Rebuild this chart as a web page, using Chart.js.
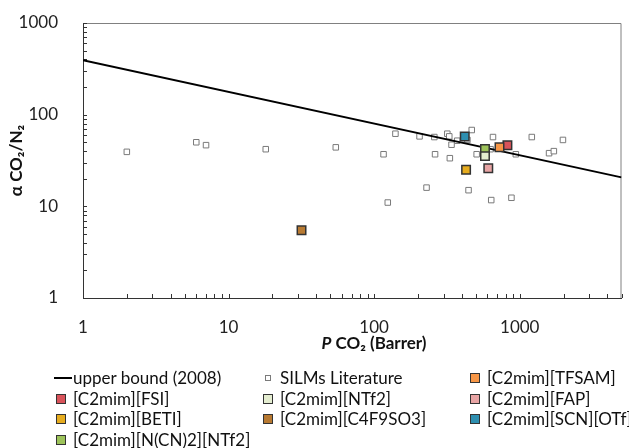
<!DOCTYPE html>
<html>
<head>
<meta charset="utf-8">
<script src="https://cdn.jsdelivr.net/npm/chart.js@4.4.0/dist/chart.umd.min.js"></script>
<style>
  body { margin: 0; background: #fff; }
  #wrap { position: relative; width: 629px; height: 448px; font-family: Lato, "Open Sans", sans-serif; }
  #legend .item { position: absolute; font-size: 17px; line-height: 20px; color: #111; white-space: nowrap; }
  #legend .mk { position: absolute; box-sizing: border-box; }
</style>
</head>
<body>
<div id="wrap">
  <canvas id="chart" width="629" height="448"></canvas>
  <div id="legend"></div>
</div>
<script>
// valeurs
const litP = [2, 6, 7, 18, 54.5, 116, 140, 205, 259, 262, 318, 328, 340, 331, 372, 468, 437, 506, 630, 655, 940, 1210, 1590, 1715, 1980, 229, 445, 124, 637, 877];
const litAlpha = [39.3, 50, 46.5, 42, 44, 37, 62, 58, 57, 37, 62, 58, 47, 33.5, 52, 68, 53, 37, 42, 57, 37, 57, 38, 40, 53, 16, 15, 11, 11.7, 12.4];

const ilNames = ['[C2mim][TFSAM]', '[C2mim][FSI]', '[C2mim][NTf2]', '[C2mim][FAP]', '[C2mim][BETI]', '[C2mim][C4F9SO3]', '[C2mim][SCN][OTf]', '[C2mim][N(CN)2][NTf2]'];
const ilP = [726, 823, 577, 608, 428, 31.7, 419, 577];
const ilAlpha = [44.2, 46.5, 35.3, 26.1, 25.0, 5.5, 57.9, 42.1];

const upperP = [1, 5000];
const upperAlpha = [393, 20.7];

const xMajor = [1, 10, 100, 1000];
const yMajor = [1, 10, 100, 1000];

// couleurs
const ilColors = ['#F79646', '#D9535A', '#E4EDD0', '#E8A4A4', '#E6AC1F', '#B87A32', '#2E8FB0', '#9DC35A'];

function logTicks(min, max) {
  const out = [];
  for (let d = 1; d <= max; d *= 10) {
    for (let m = 1; m <= 9; m++) {
      const v = m * d;
      if (v >= min && v <= max) out.push(v);
    }
  }
  return out;
}

const datasets = [];
datasets.push({
  label: 'upper bound (2008)',
  type: 'line',
  data: upperP.map((p, i) => ({ x: p, y: upperAlpha[i] })),
  borderColor: '#000',
  borderWidth: 2,
  pointRadius: 0,
  order: 1
});
datasets.push({
  label: 'SILMs Literature',
  data: litP.map((p, i) => ({ x: p, y: litAlpha[i] })),
  pointStyle: 'rect',
  pointRadius: 3.9,
  backgroundColor: '#fff',
  borderColor: '#7a7a7a',
  borderWidth: 1,
  order: 2
});
ilNames.forEach((n, i) => {
  datasets.push({
    label: n,
    data: [{ x: ilP[i], y: ilAlpha[i] }],
    pointStyle: 'rect',
    pointRadius: 6,
    backgroundColor: ilColors[i],
    borderColor: '#333',
    borderWidth: 1.5,
    order: 0
  });
});

const font = { family: 'Lato, "Open Sans", sans-serif', size: 17 };

// cadre, graduations internes et titre de l'axe x
const framePlugin = {
  id: 'frame',
  beforeDatasetsDraw(chart) {
    const { ctx, chartArea: a, scales } = chart;
    ctx.save();
    ctx.strokeStyle = '#808080';
    ctx.lineWidth = 1;
    ctx.beginPath();
    ctx.moveTo(a.left, a.top + 0.5);
    ctx.lineTo(a.right - 0.5, a.top + 0.5);
    ctx.lineTo(a.right - 0.5, a.bottom);
    ctx.stroke();
    ctx.strokeStyle = '#333';
    ctx.beginPath();
    scales.x.ticks.forEach(t => {
      const px = Math.round(scales.x.getPixelForValue(t.value)) + 0.5;
      ctx.moveTo(px, a.bottom);
      ctx.lineTo(px, a.bottom - 4);
    });
    scales.y.ticks.forEach(t => {
      const py = Math.round(scales.y.getPixelForValue(t.value)) + 0.5;
      ctx.moveTo(a.left, py);
      ctx.lineTo(a.left + 4, py);
    });
    ctx.stroke();
    ctx.restore();
  },
  afterDraw(chart) {
    const { ctx } = chart;
    ctx.save();
    ctx.fillStyle = '#111';
    ctx.textBaseline = 'middle';
    const f1 = 'italic bold 17px Lato, "Open Sans", sans-serif';
    const f2 = 'bold 17px Lato, "Open Sans", sans-serif';
    const rest = ' CO\u2082 (Barrer)';
    ctx.font = f1;
    const w1 = ctx.measureText('P').width;
    ctx.font = f2;
    const w2 = ctx.measureText(rest).width;
    const x0 = 374 - (w1 + w2) / 2;
    ctx.font = f1;
    ctx.fillText('P', x0, 344);
    ctx.font = f2;
    ctx.fillText(rest, x0 + w1, 344);
    ctx.restore();
  }
};

new Chart(document.getElementById('chart'), {
  type: 'scatter',
  data: { datasets },
  options: {
    responsive: false,
    animation: false,
    devicePixelRatio: 1,
    layout: { padding: { top: 23, right: 6, bottom: 98, left: 0 } },
    plugins: { legend: { display: false }, tooltip: { enabled: false } },
    scales: {
      x: {
        type: 'logarithmic',
        min: 1,
        max: 5000,
        afterBuildTicks: s => { s.ticks = logTicks(1, 5000).map(v => ({ value: v })); },
        afterFit: s => { s.height = 52; s.paddingLeft = 0; s.paddingRight = 0; },
        ticks: {
          autoSkip: false, maxRotation: 0, padding: 11, color: '#222', font,
          callback: v => xMajor.includes(v) ? String(v) : ''
        },
        grid: { display: false },
        border: { display: true, color: '#333', width: 1 }
      },
      y: {
        type: 'logarithmic',
        min: 1,
        max: 1000,
        afterBuildTicks: s => { s.ticks = logTicks(1, 1000).map(v => ({ value: v })); },
        afterFit: s => { s.width = 83; s.paddingTop = 0; s.paddingBottom = 0; },
        ticks: {
          autoSkip: false, padding: 17, color: '#222', font,
          callback: v => yMajor.includes(v) ? String(v) : ''
        },
        grid: { display: false },
        border: { display: true, color: '#333', width: 1 },
        title: {
          display: true,
          text: '\u03B1 CO\u2082/N\u2082',
          color: '#111',
          font: { family: font.family, size: 17, weight: 'bold' },
          padding: { top: 6, bottom: 0 }
        }
      }
    }
  },
  plugins: [framePlugin]
});

// légende en 3 colonnes
const legend = document.getElementById('legend');
const colX = [56, 263, 470];
const rowY = [368, 388.5, 409, 429.5];
datasets.forEach((d, i) => {
  const col = i % 3, row = Math.floor(i / 3);
  const item = document.createElement('div');
  item.className = 'item';
  item.style.left = (colX[col] + 17) + 'px';
  item.style.top = rowY[row] + 'px';
  item.textContent = d.label;
  const mk = document.createElement('div');
  mk.className = 'mk';
  if (d.type === 'line') {
    mk.style.cssText = 'left:' + (colX[col] - 2) + 'px;top:' + (rowY[row] + 9) + 'px;width:18px;height:2px;background:#000;';
  } else if (d.label === 'SILMs Literature') {
    mk.style.cssText = 'left:' + (colX[col] + 2) + 'px;top:' + (rowY[row] + 7) + 'px;width:6px;height:6px;border:1px solid #7a7a7a;background:#fff;';
  } else {
    mk.style.cssText = 'left:' + colX[col] + 'px;top:' + (rowY[row] + 5) + 'px;width:10px;height:10px;border:1.5px solid #333;background:' + d.backgroundColor + ';';
  }
  legend.appendChild(mk);
  legend.appendChild(item);
});
</script>
</body>
</html>
